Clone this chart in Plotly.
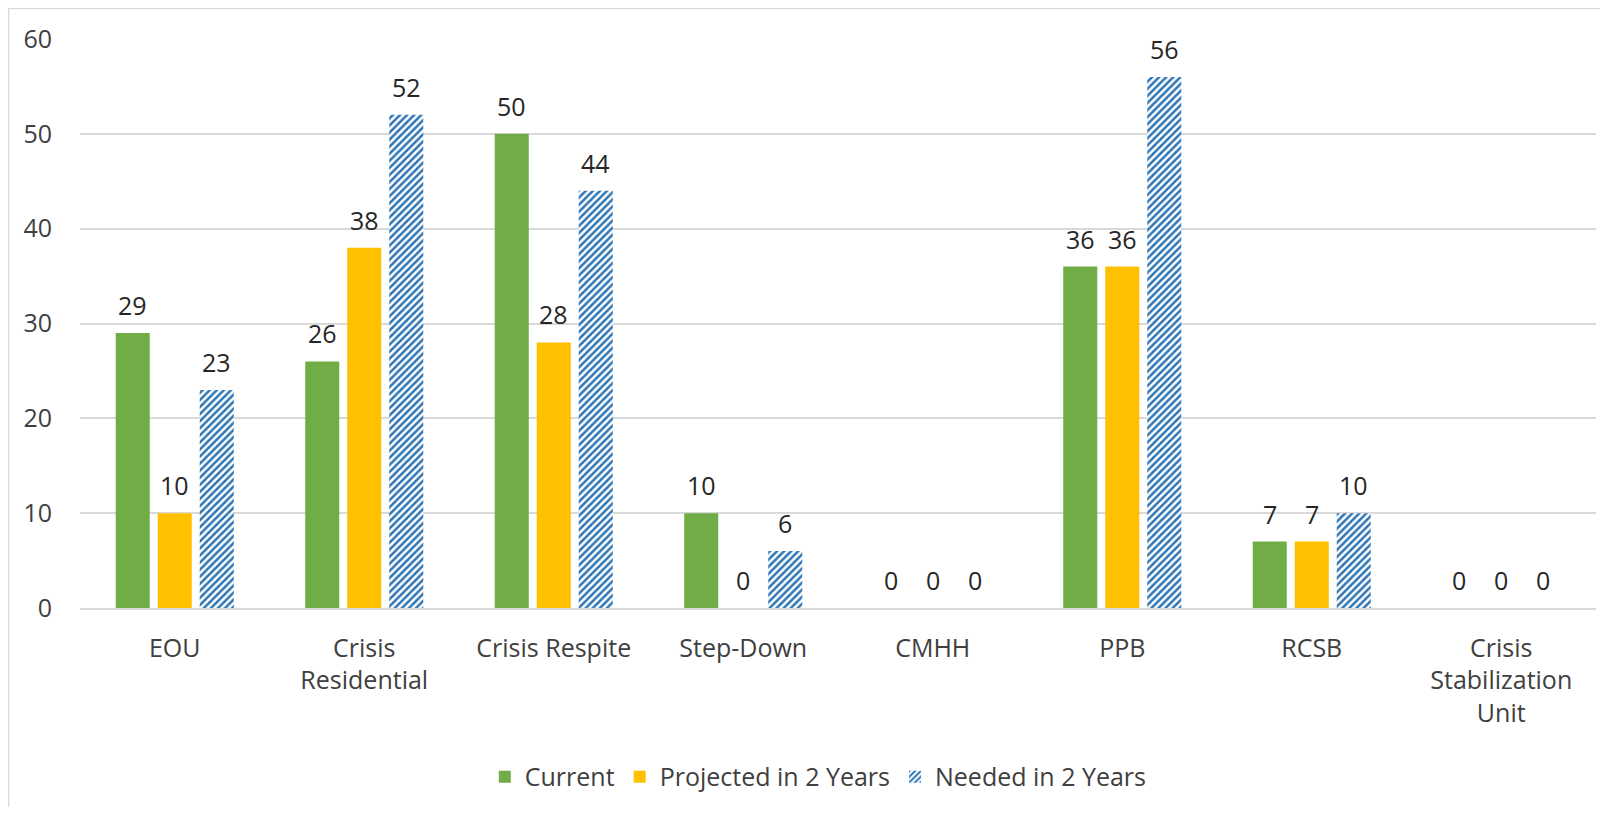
import plotly.graph_objects as go

categories = ["EOU", "Crisis<br>Residential", "Crisis Respite", "Step-Down", "CMHH",
              "PPB", "RCSB", "Crisis<br>Stabilization<br>Unit"]
current = [29, 26, 50, 10, 0, 36, 7, 0]
projected = [10, 38, 28, 0, 0, 36, 7, 0]
needed = [23, 52, 44, 6, 0, 56, 10, 0]
series_names = ["Current", "Projected in 2 Years", "Needed in 2 Years"]
y_ticks = [0, 10, 20, 30, 40, 50, 60]

FONT = "Open Sans"
FS = 25
GREEN = "#70AD47"
YELLOW = "#FFC000"
BLUE = "#2E75B6"
LABEL_COLOR = "#262626"
TICK_COLOR = "#404040"

BARGAP = 0.335
BARGROUPGAP = 0.19

# page body has an 8px margin: figure is placed at (8, 8)
W, H = 1592, 799
L, R, T, B = 72, 4, 31, 199
PLOT_W = W - L - R
PLOT_H = H - T - B

xs = list(range(len(categories)))

fig = go.Figure()
fig.add_trace(go.Bar(x=xs, y=current, name=series_names[0], marker=dict(color=GREEN, line=dict(width=0))))
fig.add_trace(go.Bar(x=xs, y=projected, name=series_names[1], marker=dict(color=YELLOW, line=dict(width=0))))
fig.add_trace(go.Bar(x=xs, y=needed, name=series_names[2],
                     marker=dict(color="white", line=dict(width=0),
                                 pattern=dict(shape="/", fgcolor=BLUE, bgcolor="white", fgopacity=1,
                                              size=5, solidity=0.5, fillmode="replace"))))

# data labels
slot = (1 - BARGAP) / 3
annotations = []
for k, vals in enumerate([current, projected, needed]):
    for i, v in enumerate(vals):
        annotations.append(dict(x=i + (k - 1) * slot, y=v, xref="x", yref="y",
                                text=str(v), showarrow=False, yanchor="middle", yshift=28,
                                font=dict(family=FONT, size=FS, color=LABEL_COLOR)))

fig.update_layout(
    width=W, height=H,
    margin=dict(l=L, r=R, t=T, b=B),
    paper_bgcolor="white", plot_bgcolor="white",
    barmode="group", bargap=BARGAP, bargroupgap=BARGROUPGAP,
    font=dict(family=FONT, size=FS, color=TICK_COLOR),
    showlegend=True,
    legend=dict(orientation="h", x=0.487, xanchor="center", y=-0.297, yanchor="middle",
                font=dict(family=FONT, size=FS, color=TICK_COLOR), traceorder="normal",
                bgcolor="rgba(0,0,0,0)"),
    annotations=annotations,
    shapes=[dict(type="rect", xref="paper", yref="paper",
                 x0=-(L - 0.5) / PLOT_W, x1=1.2, y0=-0.6, y1=1 + (T - 0.5) / PLOT_H,
                 line=dict(color="#D9D9D9", width=1.5), fillcolor="rgba(0,0,0,0)", layer="below")],
)
fig.update_xaxes(tickmode="array", tickvals=xs, ticktext=categories, range=[-0.5, len(categories) - 0.5],
                 showgrid=False, showline=True, linecolor="#D9D9D9", linewidth=1.5,
                 ticks="", ticklabelstandoff=17, zeroline=False,
                 tickfont=dict(family=FONT, size=FS, color=TICK_COLOR))
fig.update_yaxes(range=[0, 60], tickvals=y_ticks, showgrid=True, gridcolor="#D9D9D9", gridwidth=1.5,
                 zeroline=False, showline=False, ticks="", ticklabelstandoff=27,
                 tickfont=dict(family=FONT, size=FS, color=TICK_COLOR))

fig.write_html("out.html")
